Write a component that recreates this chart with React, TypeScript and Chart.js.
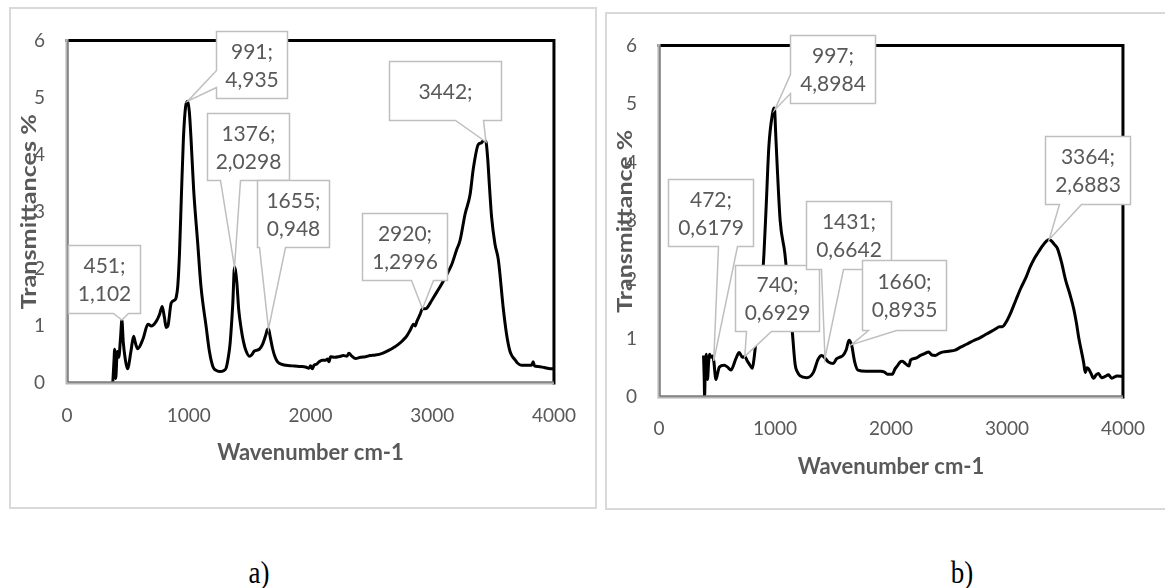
import React, { useEffect, useRef } from "react";
import { Chart, registerables } from "chart.js";

Chart.register(...registerables);

// ---------------- data ----------------
const X_TICKS = [0, 1000, 2000, 3000, 4000];
const Y_TICKS = [0, 1, 2, 3, 4, 5, 6];

const A_WAVENUMBER = [
  376, 385, 392, 400, 413, 425, 440, 451, 462, 480, 497, 525, 547, 562, 580, 624, 665, 692, 733, 760,
  782, 800, 815, 829, 856, 883, 897, 910, 924, 940, 956, 975, 991, 1005, 1019, 1040, 1074, 1100, 1144, 1170,
  1198, 1225, 1253, 1290, 1307, 1325, 1340, 1362, 1376, 1395, 1410, 1430, 1450, 1471, 1498, 1520, 1539, 1580, 1607, 1634,
  1645, 1655, 1670, 1689, 1710, 1730, 1760, 1798, 1850, 1907, 1933, 1960, 1988, 2000, 2015, 2029, 2050, 2070, 2095, 2124,
  2140, 2152, 2165, 2200, 2233, 2270, 2300, 2315, 2340, 2370, 2410, 2451, 2490, 2533, 2590, 2642, 2690, 2724, 2760, 2793,
  2820, 2847, 2860, 2874, 2900, 2920, 2940, 2956, 2997, 3040, 3079, 3120, 3161, 3200, 3229, 3270, 3311, 3338, 3379, 3400,
  3425, 3442, 3455, 3470, 3488, 3515, 3543, 3584, 3611, 3638, 3660, 3679, 3700, 3734, 3780, 3816, 3829, 3840, 3870, 3920,
  3970, 4000,
];
const A_TRANSMITTANCE = [
  0.0, 0.35, 0.59, 0.08, 0.55, 0.45, 0.8, 1.102, 0.72, 0.4, 0.25, 0.55, 0.82, 0.7, 0.6, 0.77, 1.03, 1.0, 1.08, 1.2,
  1.34, 1.15, 0.97, 1.0, 1.4, 1.45, 1.5, 1.7, 2.27, 3.3, 4.27, 4.85, 4.935, 4.75, 4.27, 3.4, 2.44, 1.7, 0.97, 0.55,
  0.29, 0.22, 0.2, 0.22, 0.26, 0.45, 0.7, 1.4, 2.0298, 1.76, 1.3, 0.96, 0.72, 0.56, 0.47, 0.5, 0.56, 0.59, 0.68, 0.85,
  0.93, 0.948, 0.8, 0.6, 0.45, 0.37, 0.33, 0.31, 0.3, 0.29, 0.29, 0.28, 0.26, 0.3, 0.25, 0.31, 0.33, 0.37, 0.4, 0.4,
  0.42, 0.37, 0.46, 0.45, 0.46, 0.48, 0.47, 0.52, 0.47, 0.43, 0.45, 0.46, 0.48, 0.49, 0.52, 0.57, 0.63, 0.68, 0.75, 0.83,
  0.93, 1.03, 1.0, 1.08, 1.2, 1.2996, 1.3, 1.31, 1.45, 1.6, 1.74, 1.9, 2.08, 2.33, 2.5, 2.96, 3.3, 3.76, 4.18, 4.2,
  4.25, 4.22, 3.95, 3.45, 2.9, 2.44, 2.16, 1.3, 0.85, 0.56, 0.46, 0.41, 0.35, 0.31, 0.31, 0.31, 0.37, 0.3, 0.29, 0.27,
  0.25, 0.25,
];

const B_WAVENUMBER = [
  384, 390, 393, 398, 407, 418, 428, 435, 450, 463, 472, 491, 505, 520, 563, 591, 620, 662, 691, 719,
  740, 760, 776, 805, 819, 833, 862, 880, 905, 925, 947, 980, 992, 997, 1006, 1020, 1045, 1085, 1120, 1146,
  1174, 1195, 1217, 1274, 1331, 1373, 1402, 1431, 1459, 1502, 1530, 1560, 1587, 1615, 1638, 1660, 1687, 1715, 1786, 1871,
  1913, 1940, 1970, 2012, 2035, 2055, 2080, 2098, 2125, 2155, 2169, 2210, 2254, 2290, 2325, 2350, 2382, 2420, 2453, 2500,
  2553, 2600, 2652, 2710, 2766, 2820, 2865, 2900, 2936, 2960, 2993, 3035, 3078, 3120, 3164, 3200, 3235, 3270, 3306, 3340,
  3364, 3385, 3410, 3434, 3470, 3505, 3540, 3576, 3600, 3618, 3640, 3661, 3675, 3690, 3704, 3725, 3746, 3770, 3789, 3815,
  3846, 3875, 3903, 3950, 4000,
];
const B_TRANSMITTANCE = [
  0.71, 0.3, 0.0, 0.4, 0.73, 0.3, 0.6, 0.73, 0.68, 0.7, 0.6179, 0.3, 0.4, 0.51, 0.54, 0.51, 0.46, 0.65, 0.76, 0.68,
  0.6929, 0.62, 0.57, 0.49, 0.65, 0.89, 1.27, 1.7, 2.45, 3.3, 4.27, 4.85, 4.93, 4.8984, 4.5, 3.9, 3.0, 2.45, 1.7, 1.19,
  0.55, 0.42, 0.36, 0.33, 0.42, 0.65, 0.71, 0.6642, 0.6, 0.57, 0.65, 0.68, 0.71, 0.81, 0.97, 0.8935, 0.6, 0.46, 0.44, 0.44,
  0.44, 0.43, 0.39, 0.39, 0.48, 0.53, 0.6, 0.61, 0.57, 0.53, 0.63, 0.66, 0.71, 0.74, 0.77, 0.72, 0.71, 0.75, 0.77, 0.78,
  0.8, 0.85, 0.9, 0.96, 1.01, 1.07, 1.12, 1.16, 1.2, 1.2, 1.28, 1.45, 1.66, 1.86, 2.04, 2.22, 2.36, 2.47, 2.58, 2.66,
  2.6883, 2.66, 2.6, 2.54, 2.3, 2.0, 1.77, 1.5, 1.25, 1.02, 0.8, 0.59, 0.42, 0.5, 0.48, 0.4, 0.32, 0.38, 0.4, 0.33,
  0.35, 0.38, 0.32, 0.36, 0.35,
];

// peak labels (callouts)
const A_PEAK_WN = [451, 991, 1376, 1655, 2920, 3442];
const A_PEAK_VAL = [1.102, 4.935, 2.0298, 0.948, 1.2996, 4.22];
const A_PEAK_TEXT = [["451;", "1,102"], ["991;", "4,935"], ["1376;", "2,0298"], ["1655;", "0,948"], ["2920;", "1,2996"], ["3442;"]];

const B_PEAK_WN = [472, 740, 997, 1431, 1660, 3364];
const B_PEAK_VAL = [0.6179, 0.6929, 4.8984, 0.6642, 0.8935, 2.6883];
const B_PEAK_TEXT = [["472;", "0,6179"], ["740;", "0,6929"], ["997;", "4,8984"], ["1431;", "0,6642"], ["1660;", "0,8935"], ["3364;", "2,6883"]];

// ---------------- layout (callout box placement relative to tip) ----------------
type Callout = { dx: number; dy: number; w: number; h: number; edge: "bottom" | "left"; b1: number; b2: number };

const A_CALLOUTS: Callout[] = [
  { dx: -54, dy: -75, w: 72, h: 68, edge: "bottom", b1: 45, b2: 60 },
  { dx: 28, dy: -70, w: 71, h: 67, edge: "left", b1: 39, b2: 56 },
  { dx: -28, dy: -154, w: 82, h: 67, edge: "bottom", b1: 13, b2: 33 },
  { dx: -11, dy: -149, w: 72, h: 67, edge: "bottom", b1: 2, b2: 28 },
  { dx: -60, dy: -96, w: 85, h: 67, edge: "bottom", b1: 49, b2: 71 },
  { dx: -97, dy: -81, w: 112, h: 59, edge: "bottom", b1: 66, b2: 94 },
];
const B_CALLOUTS: Callout[] = [
  { dx: -46, dy: -182, w: 85, h: 67, edge: "bottom", b1: 50, b2: 69 },
  { dx: -10, dy: -91, w: 84, h: 66, edge: "bottom", b1: 11, b2: 36 },
  { dx: 15, dy: -75, w: 85, h: 68, edge: "left", b1: 39, b2: 58 },
  { dx: -19, dy: -157, w: 85, h: 68, edge: "bottom", b1: 15, b2: 37 },
  { dx: 10, dy: -85, w: 84, h: 70, edge: "bottom", b1: 6, b2: 34 },
  { dx: -4, dy: -103, w: 85, h: 68, edge: "bottom", b1: 14, b2: 36 },
];

type PanelCfg = {
  left: number; top: number; width: number; height: number;
  area: { left: number; top: number; right: number; bottom: number };
  wn: number[]; val: number[];
  peakWn: number[]; peakVal: number[]; peakText: string[][]; callouts: Callout[];
  yTitle: string; yTitleX: number; yTitleLen: number;
  xTitleY: number; xTickPad: number;
  frameRightOpen: boolean;
};

const TEXT = "#595959";
const FONT = "Lato, 'Open Sans', sans-serif";

const PANELS: PanelCfg[] = [
  {
    left: 9, top: 7, width: 588, height: 502,
    area: { left: 58, top: 25, right: 547, bottom: 376 },
    wn: A_WAVENUMBER, val: A_TRANSMITTANCE,
    peakWn: A_PEAK_WN, peakVal: A_PEAK_VAL, peakText: A_PEAK_TEXT, callouts: A_CALLOUTS,
    yTitle: "Transmittances %", yTitleX: 20, yTitleLen: 195,
    xTitleY: 446, xTickPad: 21, frameRightOpen: false,
  },
  {
    left: 605, top: 12, width: 560, height: 498,
    area: { left: 54, top: 14, right: 523, bottom: 385 },
    wn: B_WAVENUMBER, val: B_TRANSMITTANCE,
    peakWn: B_PEAK_WN, peakVal: B_PEAK_VAL, peakText: B_PEAK_TEXT, callouts: B_CALLOUTS,
    yTitle: "Transmittance %", yTitleX: 20, yTitleLen: 183,
    xTitleY: 455, xTickPad: 20, frameRightOpen: true,
  },
];

function drawCallout(ctx: CanvasRenderingContext2D, tx: number, ty: number, co: Callout, lines: string[]) {
  const x = Math.round(tx + co.dx) + 0.5;
  const y = Math.round(ty + co.dy) + 0.5;
  const { w, h } = co;
  ctx.save();
  ctx.beginPath();
  if (co.edge === "bottom") {
    ctx.moveTo(x, y);
    ctx.lineTo(x + w, y);
    ctx.lineTo(x + w, y + h);
    ctx.lineTo(x + co.b2, y + h);
    ctx.lineTo(tx, ty);
    ctx.lineTo(x + co.b1, y + h);
    ctx.lineTo(x, y + h);
  } else {
    ctx.moveTo(x, y);
    ctx.lineTo(x + w, y);
    ctx.lineTo(x + w, y + h);
    ctx.lineTo(x, y + h);
    ctx.lineTo(x, y + co.b2);
    ctx.lineTo(tx, ty);
    ctx.lineTo(x, y + co.b1);
  }
  ctx.closePath();
  ctx.fillStyle = "#ffffff";
  ctx.fill();
  ctx.strokeStyle = "#bfbfbf";
  ctx.lineWidth = 1.5;
  ctx.stroke();
  ctx.fillStyle = TEXT;
  ctx.font = `21px ${FONT}`;
  ctx.textAlign = "center";
  ctx.textBaseline = "middle";
  const cx = x + w / 2;
  const cy = y + h / 2;
  if (lines.length === 1) {
    ctx.fillText(lines[0], cx, cy + 1);
  } else {
    ctx.fillText(lines[0], cx, cy - 13);
    ctx.fillText(lines[1], cx, cy + 15);
  }
  ctx.restore();
}

function Panel({ cfg }: { cfg: PanelCfg }) {
  const ref = useRef<HTMLCanvasElement>(null);
  useEffect(() => {
    const c = cfg;
    const decor = {
      id: "decor",
      beforeDraw(chart: any) {
        const ctx = chart.ctx as CanvasRenderingContext2D;
        ctx.save();
        ctx.fillStyle = "#ffffff";
        ctx.fillRect(0, 0, c.width, c.height);
        ctx.strokeStyle = "#d9d9d9";
        ctx.lineWidth = 2;
        ctx.strokeRect(1, 1, c.frameRightOpen ? c.width + 6 : c.width - 2, c.height - 2);
        ctx.restore();
      },
      afterDatasetsDraw(chart: any) {
        const ctx = chart.ctx as CanvasRenderingContext2D;
        const a = chart.chartArea;
        const xs = chart.scales.x;
        const ys = chart.scales.y;
        ctx.save();
        // plot frame
        ctx.lineCap = "square";
        ctx.strokeStyle = "#000000";
        ctx.lineWidth = 3;
        ctx.beginPath();
        ctx.moveTo(a.left, a.top);
        ctx.lineTo(a.right, a.top);
        ctx.lineTo(a.right, a.bottom);
        ctx.stroke();
        ctx.lineCap = "butt";
        ctx.strokeStyle = "#b4b4b4";
        ctx.lineWidth = 3;
        ctx.beginPath();
        ctx.moveTo(a.left, a.top - 1.5);
        ctx.lineTo(a.left, a.bottom);
        ctx.lineTo(a.right, a.bottom);
        ctx.stroke();
        ctx.strokeStyle = "#5a5a5a";
        ctx.lineWidth = 1;
        ctx.beginPath();
        ctx.moveTo(a.left + 1, a.top);
        ctx.lineTo(a.left + 1, a.bottom - 1);
        ctx.lineTo(a.right, a.bottom - 1);
        ctx.stroke();

        // axis titles
        ctx.fillStyle = TEXT;
        ctx.font = `bold 22px ${FONT}`;
        ctx.textAlign = "center";
        ctx.textBaseline = "middle";
        ctx.fillText("Wavenumber cm-1", (a.left + a.right) / 2, c.xTitleY);

        ctx.font = `bold 21px ${FONT}`;
        const m = ctx.measureText(c.yTitle).width;
        ctx.save();
        ctx.translate(c.yTitleX, (a.top + a.bottom) / 2);
        ctx.rotate(-Math.PI / 2);
        ctx.scale(c.yTitleLen / m, 1);
        ctx.fillText(c.yTitle, 0, 0);
        ctx.restore();

        // callouts
        c.peakWn.forEach((wn, i) => {
          const tx = xs.getPixelForValue(wn);
          const ty = ys.getPixelForValue(c.peakVal[i]);
          drawCallout(ctx, tx, ty, c.callouts[i], c.peakText[i]);
        });
        ctx.restore();
      },
    };

    const tickFont = { family: "Lato, 'Open Sans', sans-serif", size: 19 };
    const chart = new Chart(ref.current as HTMLCanvasElement, {
      type: "line",
      data: {
        datasets: [
          {
            data: c.wn.map((x, i) => ({ x, y: c.val[i] })),
            borderColor: "#000000",
            borderWidth: 3,
            pointRadius: 0,
            fill: false,
            tension: 0.25,
            cubicInterpolationMode: "monotone",
            borderJoinStyle: "round",
          } as any,
        ],
      },
      options: {
        responsive: false,
        animation: false,
        devicePixelRatio: 1,
        events: [],
        layout: { padding: { left: 0, top: c.area.top, right: c.width - c.area.right, bottom: 0 } },
        plugins: { legend: { display: false }, tooltip: { enabled: false } },
        scales: {
          x: {
            type: "linear",
            min: 0,
            max: 4000,
            afterBuildTicks: (s: any) => { s.ticks = X_TICKS.map((v) => ({ value: v })); },
            afterFit: (s: any) => { s.height = c.height - c.area.bottom; },
            grid: { display: false, drawTicks: false },
            border: { display: false },
            ticks: {
              padding: c.xTickPad, color: TEXT, font: tickFont, maxRotation: 0, autoSkip: false,
              callback: (v: any) => String(v),
            },
          },
          y: {
            type: "linear",
            min: 0,
            max: 6,
            afterBuildTicks: (s: any) => { s.ticks = Y_TICKS.map((v) => ({ value: v })); },
            afterFit: (s: any) => { s.width = c.area.left; },
            grid: { display: false, drawTicks: false },
            border: { display: false },
            ticks: { padding: 22, color: TEXT, font: tickFont, autoSkip: false, callback: (v: any) => String(v) },
          },
        },
      } as any,
      plugins: [decor],
    });
    return () => chart.destroy();
  }, [cfg]);

  return (
    <canvas
      ref={ref}
      width={cfg.width}
      height={cfg.height}
      style={{ position: "absolute", left: cfg.left, top: cfg.top, width: cfg.width, height: cfg.height }}
    />
  );
}

export default function App() {
  const capStyle: React.CSSProperties = {
    position: "absolute",
    top: 558,
    width: 60,
    textAlign: "center",
    fontFamily: "'Liberation Serif', 'Times New Roman', serif",
    fontSize: 27,
    lineHeight: "30px",
    color: "#000",
    transform: "scaleY(1.15)",
  };
  return (
    <div style={{ position: "absolute", left: 0, top: 0, width: 1165, height: 588, overflow: "hidden", background: "#fff" }}>
      {PANELS.map((p, i) => (
        <Panel key={i} cfg={p} />
      ))}
      <div style={{ ...capStyle, left: 229 }}>a)</div>
      <div style={{ ...capStyle, left: 932 }}>b)</div>
    </div>
  );
}
